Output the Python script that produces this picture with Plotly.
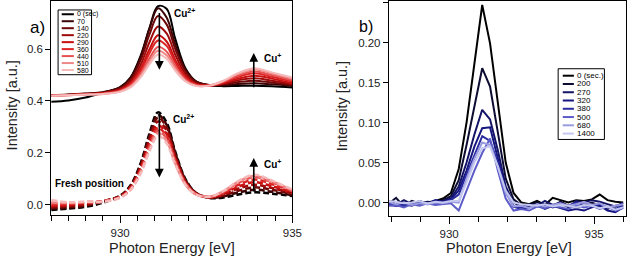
import plotly.graph_objects as go

# ---------------- data: panel a ----------------
x_a = [928.0, 928.5, 929.0, 929.5, 930.0, 930.3, 930.6, 930.85, 931.1, 931.35,
       931.6, 931.9, 932.2, 932.6, 933.0, 933.4, 933.9, 934.4, 935.0]
names_a = ["0 (sec)", "70", "140", "220", "290", "360", "440", "510", "580"]
colors_a = ["#000000", "#3a0505", "#6e0808", "#9e0a0a", "#c81010", "#dc2424",
            "#e65252", "#ef8787", "#f6baba"]

solid_0 = [0.397, 0.402, 0.413, 0.432, 0.453, 0.490, 0.576, 0.680, 0.765, 0.755, 0.640, 0.525, 0.476, 0.460, 0.457, 0.458, 0.459, 0.457, 0.452]
solid_70 = [0.422, 0.425, 0.429, 0.434, 0.452, 0.488, 0.571, 0.678, 0.757, 0.721, 0.618, 0.520, 0.475, 0.461, 0.460, 0.465, 0.468, 0.464, 0.458]
solid_140 = [0.422, 0.424, 0.428, 0.433, 0.449, 0.482, 0.558, 0.655, 0.727, 0.695, 0.601, 0.513, 0.473, 0.461, 0.464, 0.472, 0.478, 0.471, 0.461]
solid_220 = [0.421, 0.424, 0.427, 0.431, 0.445, 0.474, 0.540, 0.625, 0.687, 0.660, 0.579, 0.502, 0.468, 0.460, 0.466, 0.479, 0.487, 0.478, 0.465]
solid_290 = [0.421, 0.423, 0.426, 0.430, 0.442, 0.467, 0.525, 0.598, 0.653, 0.629, 0.559, 0.493, 0.465, 0.459, 0.469, 0.485, 0.497, 0.486, 0.468]
solid_360 = [0.421, 0.423, 0.426, 0.429, 0.440, 0.463, 0.516, 0.583, 0.633, 0.612, 0.548, 0.489, 0.463, 0.460, 0.472, 0.492, 0.507, 0.493, 0.474]
solid_440 = [0.420, 0.422, 0.425, 0.428, 0.438, 0.458, 0.505, 0.564, 0.608, 0.590, 0.534, 0.482, 0.461, 0.459, 0.474, 0.497, 0.513, 0.500, 0.480]
solid_510 = [0.420, 0.422, 0.424, 0.427, 0.437, 0.455, 0.498, 0.553, 0.593, 0.576, 0.526, 0.478, 0.459, 0.460, 0.477, 0.503, 0.521, 0.507, 0.485]
solid_580 = [0.420, 0.422, 0.424, 0.427, 0.435, 0.452, 0.492, 0.541, 0.579, 0.563, 0.517, 0.475, 0.458, 0.459, 0.478, 0.506, 0.526, 0.510, 0.490]
solid_a = [solid_0, solid_70, solid_140, solid_220, solid_290, solid_360, solid_440, solid_510, solid_580]

dash_0 = [-0.020, -0.015, -0.008, 0.008, 0.035, 0.074, 0.161, 0.273, 0.356, 0.317, 0.205, 0.098, 0.046, 0.026, 0.028, 0.039, 0.048, 0.043, 0.034]
dash_70 = [-0.015, -0.012, -0.005, 0.012, 0.034, 0.072, 0.157, 0.265, 0.346, 0.308, 0.200, 0.095, 0.046, 0.027, 0.032, 0.046, 0.058, 0.050, 0.037]
dash_140 = [-0.012, -0.008, -0.002, 0.014, 0.034, 0.070, 0.152, 0.258, 0.336, 0.299, 0.194, 0.093, 0.045, 0.028, 0.035, 0.053, 0.067, 0.058, 0.041]
dash_220 = [-0.008, -0.004, 0.002, 0.013, 0.032, 0.067, 0.146, 0.246, 0.321, 0.286, 0.186, 0.089, 0.044, 0.028, 0.039, 0.061, 0.077, 0.065, 0.044]
dash_290 = [-0.004, -0.001, 0.006, 0.014, 0.031, 0.064, 0.139, 0.235, 0.306, 0.273, 0.177, 0.085, 0.043, 0.029, 0.042, 0.068, 0.087, 0.072, 0.047]
dash_360 = [0.000, 0.003, 0.008, 0.012, 0.030, 0.062, 0.135, 0.227, 0.296, 0.264, 0.172, 0.083, 0.042, 0.030, 0.046, 0.075, 0.097, 0.080, 0.051]
dash_440 = [0.006, 0.006, 0.010, 0.014, 0.029, 0.060, 0.130, 0.220, 0.286, 0.255, 0.166, 0.081, 0.041, 0.031, 0.050, 0.082, 0.107, 0.087, 0.054]
dash_510 = [0.010, 0.008, 0.011, 0.013, 0.028, 0.058, 0.126, 0.212, 0.276, 0.246, 0.160, 0.078, 0.040, 0.031, 0.052, 0.086, 0.111, 0.091, 0.056]
dash_580 = [0.018, 0.010, 0.012, 0.011, 0.027, 0.056, 0.121, 0.205, 0.266, 0.237, 0.155, 0.076, 0.039, 0.031, 0.053, 0.089, 0.116, 0.094, 0.058]
dash_a = [dash_0, dash_70, dash_140, dash_220, dash_290, dash_360, dash_440, dash_510, dash_580]

# ---------------- data: panel b ----------------
x_b = [927.9, 928.17, 928.44, 928.71, 928.98, 929.25, 929.52, 929.79, 930.06, 930.33,
       930.6, 930.87, 931.14, 931.41, 931.68, 931.95, 932.22, 932.49, 932.76, 933.03,
       933.3, 933.57, 933.84, 934.11, 934.38, 934.65, 934.92, 935.19, 935.46, 935.73, 936.0]
names_b = ["0 (sec.)", "200", "270", "320", "380", "500", "680", "1400"]
colors_b = ["#000000", "#0d0d33", "#141466", "#161680", "#2b2ba0", "#5c5cc8", "#9a9ae0", "#c4c8ee"]

b_0 = [0.002, -0.002, 0.000, -0.003, 0.001, 0.000, 0.002, 0.005, 0.012, 0.042, 0.100, 0.173, 0.247, 0.199, 0.125, 0.050, 0.012, 0.000, -0.002, 0.002, -0.003, 0.006, 0.003, 0.000, 0.003, 0.002, 0.004, 0.010, 0.003, 0.001, 0.000]
b_200 = [-0.002, 0.006, -0.005, 0.002, -0.001, 0.001, 0.000, 0.003, 0.008, 0.028, 0.072, 0.120, 0.168, 0.145, 0.085, 0.030, 0.004, -0.003, -0.004, 0.000, -0.002, -0.005, 0.001, -0.004, -0.006, -0.003, 0.000, -0.004, -0.008, -0.004, -0.003]
b_270 = [0.000, -0.003, 0.003, -0.002, 0.002, -0.001, 0.001, 0.002, 0.005, 0.020, 0.050, 0.085, 0.116, 0.104, 0.065, 0.020, 0.000, -0.005, -0.002, -0.004, 0.002, -0.003, 0.000, -0.006, 0.002, 0.000, 0.003, 0.001, -0.002, -0.005, 0.000]
b_320 = [-0.003, -0.004, -0.002, -0.004, 0.000, -0.002, 0.003, 0.001, 0.004, 0.015, 0.040, 0.070, 0.093, 0.094, 0.055, 0.015, -0.005, -0.008, -0.006, -0.003, -0.008, -0.004, -0.007, -0.010, -0.008, -0.010, -0.006, -0.004, -0.010, -0.012, -0.006]
b_380 = [-0.001, -0.004, -0.003, -0.001, -0.003, 0.000, -0.002, 0.000, 0.003, 0.010, 0.035, 0.060, 0.083, 0.077, 0.050, 0.015, -0.005, -0.006, -0.003, -0.005, -0.002, -0.006, -0.003, -0.004, 0.000, -0.003, -0.005, -0.002, -0.006, -0.008, -0.004]
b_500 = [-0.004, -0.003, -0.006, -0.002, -0.004, -0.001, -0.003, -0.002, -0.001, -0.010, 0.015, 0.040, 0.062, 0.080, 0.040, 0.005, -0.010, -0.008, -0.010, -0.005, -0.007, -0.004, -0.006, -0.008, -0.003, -0.006, -0.004, -0.008, -0.005, -0.010, -0.007]
b_680 = [0.001, -0.002, 0.000, -0.003, -0.001, -0.002, 0.000, -0.001, 0.001, 0.000, 0.030, 0.055, 0.075, 0.072, 0.045, 0.012, -0.005, -0.004, -0.007, -0.002, -0.005, -0.003, -0.001, -0.004, -0.002, 0.001, -0.003, -0.001, -0.006, -0.004, -0.002]
b_1400 = [0.002, 0.001, -0.001, 0.000, 0.002, -0.001, 0.001, 0.000, 0.002, 0.002, 0.025, 0.050, 0.068, 0.070, 0.045, 0.015, 0.000, -0.002, -0.003, -0.004, -0.002, -0.005, -0.003, -0.004, -0.006, -0.003, -0.004, -0.007, -0.005, -0.009, -0.006]
series_b = [b_0, b_200, b_270, b_320, b_380, b_500, b_680, b_1400]

FONT = "Liberation Sans, Arial, sans-serif"
W, H = 640, 256


def px(x):
    return x / W


def py(y):
    return 1 - y / H


fig = go.Figure()

for name, col, ys in zip(names_a, colors_a, solid_a):
    fig.add_trace(go.Scatter(x=x_a, y=ys, mode="lines", name=name, showlegend=False,
                             line=dict(color=col, width=2, shape="spline", smoothing=1),
                             xaxis="x", yaxis="y"))
for name, col, ys in zip(names_a, colors_a, dash_a):
    fig.add_trace(go.Scatter(x=x_a, y=ys, mode="lines", name=name, showlegend=False,
                             line=dict(color=col, width=2.5, shape="spline", smoothing=1,
                                       dash="6px,3px"),
                             xaxis="x", yaxis="y"))
for name, col, ys in zip(names_b, colors_b, series_b):
    fig.add_trace(go.Scatter(x=x_b, y=ys, mode="lines", name=name, showlegend=False,
                             line=dict(color=col, width=2),
                             xaxis="x2", yaxis="y2"))

axis_common = dict(showline=True, linecolor="black", linewidth=1, mirror=True,
                   showgrid=False, zeroline=False, ticks="outside", tickcolor="black",
                   tickfont=dict(family=FONT, size=11.5, color="#222"))

fig.update_layout(
    width=W, height=H, margin=dict(l=0, r=0, t=0, b=0),
    paper_bgcolor="white", plot_bgcolor="white", showlegend=False,
    xaxis=dict(axis_common, domain=[px(52), px(297)], range=[928, 935],
               tick0=930, dtick=5, ticklen=7,
               minor=dict(dtick=0.5, ticklen=5, tickcolor="black", ticks="outside"),
               anchor="y"),
    yaxis=dict(axis_common, domain=[py(215), 1], range=[-0.04, 0.785],
               tick0=0, dtick=0.2, tickformat=".1f", ticklen=5, anchor="x"),
    xaxis2=dict(axis_common, domain=[px(395), px(636)], range=[927.92, 936.1],
                tick0=930, dtick=5, ticklen=7,
                minor=dict(dtick=1, ticklen=5, tickcolor="black", ticks="outside"),
                anchor="y2"),
    yaxis2=dict(axis_common, domain=[py(216), 1], range=[-0.017, 0.252],
                tick0=0, dtick=0.05, tickformat=".2f", ticklen=5, anchor="x2"),
)

ann = []
shapes = []

# axis titles
title_font = dict(family=FONT, size=14.5, color="#222")
ann.append(dict(x=px(175), y=py(248), xref="paper", yref="paper", text="Photon Energy [eV]",
                showarrow=False, font=title_font, xanchor="center", yanchor="middle"))
ann.append(dict(x=px(517), y=py(248), xref="paper", yref="paper", text="Photon Energy [eV]",
                showarrow=False, font=title_font, xanchor="center", yanchor="middle"))
ann.append(dict(x=px(12), y=py(105), xref="paper", yref="paper", text="Intensity [a.u.]",
                showarrow=False, font=title_font, textangle=-90, xanchor="center", yanchor="middle"))
ann.append(dict(x=px(347), y=py(106), xref="paper", yref="paper", text="Intensity [a.u.]",
                showarrow=False, font=title_font, textangle=-90, xanchor="center", yanchor="middle"))

# arrows (panel a)
arrows = [((931.14, 0.52), (931.14, 0.745)), ((933.88, 0.585), (933.88, 0.447)),
          ((931.14, 0.105), (931.14, 0.355)), ((933.88, 0.18), (933.88, 0.045))]
for (hx, hy), (tx, ty) in arrows:
    ann.append(dict(x=hx, y=hy, ax=tx, ay=ty, xref="x", yref="y", axref="x", ayref="y",
                    text="", showarrow=True, arrowhead=2, arrowsize=1.1, arrowwidth=1.6,
                    arrowcolor="black"))

bold = dict(family=FONT, size=10, color="black")
labels = [(931.5, 0.738, "<b>Cu<sup>2+</sup></b>"), (934.12, 0.565, "<b>Cu<sup>+</sup></b>"),
          (931.47, 0.332, "<b>Cu<sup>2+</sup></b>"), (934.12, 0.156, "<b>Cu<sup>+</sup></b>"),
          (928.05, 0.083, "<b>Fresh position</b>")]
for lx, ly, t in labels:
    ann.append(dict(x=lx, y=ly, xref="x", yref="y", text=t, showarrow=False,
                    xanchor="left", yanchor="middle", font=bold))

ann.append(dict(x=px(28), y=py(15), xref="paper", yref="paper", text="a)", showarrow=False,
                font=dict(family=FONT, size=17, color="black")))
ann.append(dict(x=px(372), y=py(15), xref="paper", yref="paper", text="b)", showarrow=False,
                font=dict(family=FONT, size=16, color="black")))


def legend(names, colors, box, y0, step, lx0, lx1, tx, fsize):
    shapes.append(dict(type="rect", xref="paper", yref="paper", x0=px(box[0]), x1=px(box[1]),
                       y0=py(box[3]), y1=py(box[2]), line=dict(color="black", width=1),
                       fillcolor="white", layer="above"))
    for k, (n, c) in enumerate(zip(names, colors)):
        yy = y0 + step * k
        shapes.append(dict(type="line", xref="paper", yref="paper", x0=px(lx0), x1=px(lx1),
                           y0=py(yy), y1=py(yy), line=dict(color=c, width=2), layer="above"))
        ann.append(dict(x=px(tx), y=py(yy), xref="paper", yref="paper", text=n,
                        showarrow=False, xanchor="left", yanchor="middle",
                        font=dict(family=FONT, size=fsize, color="black")))


legend(names_a, colors_a, (59, 93, 9, 74), 13.3, 7.0, 62.7, 75, 76.5, 7)
legend(names_b, colors_b, (567, 614, 68, 139), 75, 8.3, 571.7, 583, 584.5, 8)

fig.update_layout(annotations=ann, shapes=shapes)
fig.write_html("out.html")
